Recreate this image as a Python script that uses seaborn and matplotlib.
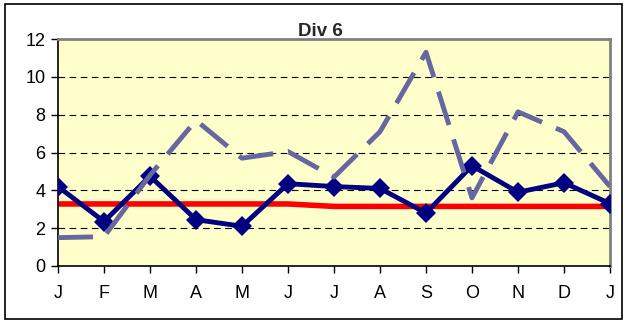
import matplotlib
matplotlib.use("Agg")
import matplotlib.pyplot as plt
import seaborn as sns
import pandas as pd

# Monthly figures for division 6
months = ["J", "F", "M", "A", "M", "J", "J", "A", "S", "O", "N", "D", "J"]
actual = [4.2, 2.35, 4.75, 2.45, 2.1, 4.35, 4.2, 4.1, 2.8, 5.3, 3.9, 4.4, 3.3]
average = [3.28, 3.28, 3.28, 3.28, 3.28, 3.28, 3.15, 3.15, 3.15, 3.15, 3.15, 3.15, 3.15]
comparison = [1.5, 1.55, 4.8, 7.7, 5.7, 6.05, 4.7, 7.1, 11.3, 3.6, 8.15, 7.1, 4.2]
y_ticks = [0, 2, 4, 6, 8, 10, 12]

sns.set_theme(style="white")
plt.rcParams["font.family"] = ["Liberation Sans", "DejaVu Sans"]

df = pd.DataFrame({
    "pos": range(len(months)),
    "actual": actual,
    "average": average,
    "comparison": comparison,
})

fig = plt.figure(figsize=(6.27, 3.22), dpi=100)
fig.patch.set_facecolor("white")
# outer chart border
fig.add_artist(plt.Rectangle((5 / 627, 3 / 322), 617 / 627, 315 / 322,
                             transform=fig.transFigure, fill=False,
                             edgecolor="black", linewidth=1.2))

ax = fig.add_axes([58 / 627, 1 - 266 / 322, 552 / 627, 227 / 322])
ax.set_facecolor("#ffffcc")

for y in y_ticks[1:-1]:
    ax.axhline(y, color="black", linewidth=0.8, dashes=(6, 4), zorder=1)

sns.lineplot(data=df, x="pos", y="average", ax=ax, color="#ff0000",
             linewidth=4, zorder=2)
sns.lineplot(data=df, x="pos", y="actual", ax=ax, color="#000080",
             linewidth=3.5, marker="D", markersize=10, markeredgewidth=0,
             zorder=3)
sns.lineplot(data=df, x="pos", y="comparison", ax=ax, color="#6666a0",
             linewidth=3.5, dashes=False, zorder=4)
ax.lines[-1].set_dashes((7.2, 3.1))
ax.lines[-1].set_dash_capstyle("butt")

ax.set_xlim(0, len(months) - 1)
ax.set_ylim(0, 12)
ax.set_xticks(range(len(months)))
ax.set_xticklabels(months)
ax.set_yticks(y_ticks)
ax.set_xlabel("")
ax.set_ylabel("")
ax.tick_params(axis="both", labelsize=13, colors="black", length=5,
               width=1, direction="out", pad=4)
ax.tick_params(axis="x", pad=8.5)
ax.xaxis.set_ticks_position("bottom")
ax.yaxis.set_ticks_position("left")

for side in ["left", "bottom"]:
    ax.spines[side].set_color("black")
    ax.spines[side].set_linewidth(1.2)
for side in ["top", "right"]:
    ax.spines[side].set_visible(True)
    ax.spines[side].set_color("#808080")
    ax.spines[side].set_linewidth(2)

fig.text(320 / 627, 1 - 36.5 / 322, "Div 6", fontsize=13.5,
         fontweight="bold", ha="center", va="baseline")

fig.savefig("out.png", dpi=100)
